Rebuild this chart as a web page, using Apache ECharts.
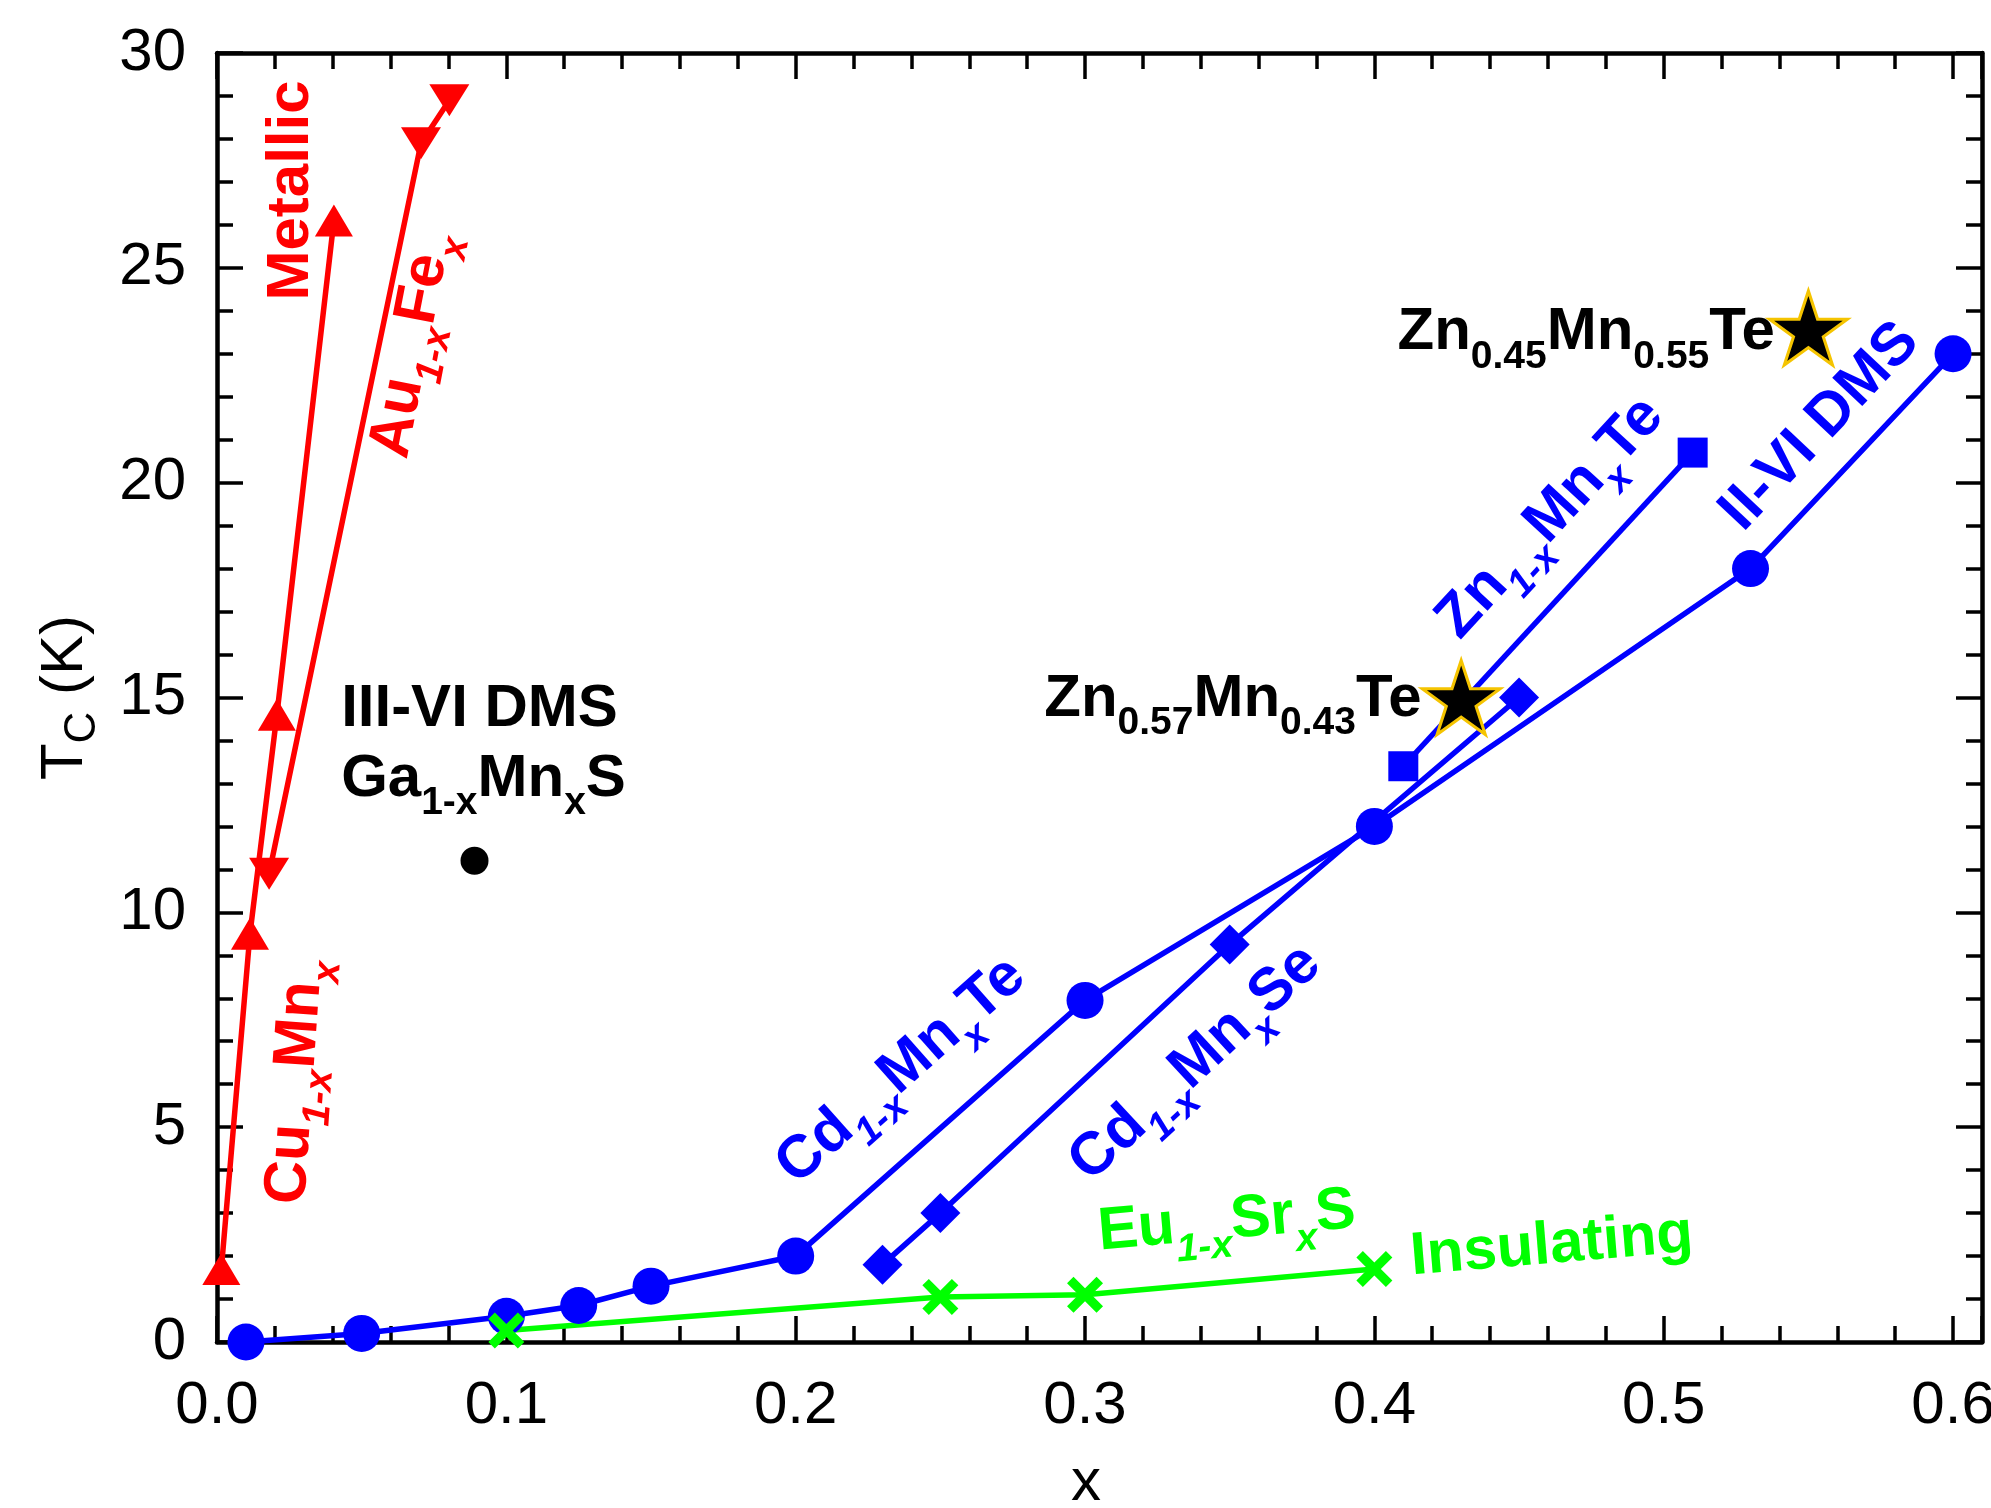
<!DOCTYPE html>
<html>
<head>
<meta charset="utf-8">
<script src="https://cdn.jsdelivr.net/npm/echarts@6/dist/echarts.min.js"></script>
<style>
  html, body { margin: 0; padding: 0; background: #fff; }
  #chart { width: 1991px; height: 1508px; }
</style>
</head>
<body>
<div id="chart"></div>
<script>
const FONT = '"Liberation Sans", Arial, Helvetica, sans-serif';
const RED = '#ff0000', BLUE = '#0000ff', GREEN = '#00ff00', BLACK = '#000000';

// x and Tc (K), one pair of arrays per system
const cuMnX = [0.0015, 0.0114, 0.0207, 0.0404];
const cuMnTc = [1.7, 9.5, 14.6, 26.1];
const auFeX = [0.018, 0.0705, 0.0803];
const auFeTc = [10.9, 27.9, 28.9];
const gaMnSX = [0.089];
const gaMnSTc = [11.2];
const iiviX = [0.01, 0.05, 0.1, 0.125, 0.15, 0.2, 0.3, 0.4, 0.53, 0.6];
const iiviTc = [0.0, 0.2, 0.6, 0.85, 1.3, 2.0, 7.95, 12.0, 18.0, 23.0];
const cdSeX = [0.23, 0.25, 0.35, 0.45];
const cdSeTc = [1.8, 3.0, 9.25, 15.0];
const znTeX = [0.41, 0.51];
const znTeTc = [13.4, 20.7];
const euSrX = [0.1, 0.25, 0.3, 0.4];
const euSrTc = [0.27, 1.05, 1.1, 1.7];
const starX = [0.43, 0.55];
const starTc = [15.0, 23.6];

// axis ranges / ticks
const xMax = 0.61, xMajor = 0.1, xMinor = 0.02;
const yMax = 30, yMajor = 5;

const STAR = 'path://M50,0 L61.23,34.55 L97.55,34.55 L68.16,55.9 L79.39,90.45 L50,69.1 L20.61,90.45 L31.84,55.9 L2.45,34.55 L38.77,34.55 Z';
const CROSS = 'path://M0,1.8 L1.8,0 L5,3.2 L8.2,0 L10,1.8 L6.8,5 L10,8.2 L8.2,10 L5,6.8 L1.8,10 L0,8.2 L3.2,5 Z';

function zip(xs, ys) {
  return xs.map((x, i) => [x, ys[i]]);
}

function lineSeries(xs, ys, color, symbol, size, extra) {
  return Object.assign({
    type: 'line',
    data: zip(xs, ys),
    symbol: symbol,
    symbolSize: size,
    showSymbol: true,
    showAllSymbol: true,
    clip: false,
    silent: true,
    lineStyle: { color: color, width: 5.5 },
    itemStyle: { color: color, opacity: 1 },
    emphasis: { disabled: true }
  }, extra || {});
}

const frame = { show: true, onZero: false, lineStyle: { color: '#000', width: 4.5 } };
const noLine = { show: false, onZero: false };
const tickStyle = { color: '#000', width: 3.5 };

function xAxis(position, interval, tickLen, labels) {
  return {
    type: 'value', position: position, min: 0, max: xMax, interval: interval,
    axisLine: labels !== null ? frame : noLine,
    axisTick: { show: true, inside: true, length: tickLen, lineStyle: tickStyle },
    axisLabel: labels ? {
      show: true, margin: 34, color: '#000', fontSize: 60, fontFamily: FONT,
      formatter: v => Math.abs(v * 10 - Math.round(v * 10)) < 1e-6 ? v.toFixed(1) : ''
    } : { show: false },
    splitLine: { show: false }
  };
}

function yAxis(position, labels) {
  return {
    type: 'value', position: position, min: 0, max: yMax, interval: yMajor,
    axisLine: frame,
    axisTick: { show: true, inside: true, length: 26, lineStyle: tickStyle },
    minorTick: { show: true, splitNumber: 5, length: 16, lineStyle: tickStyle },
    axisLabel: labels ? { show: true, margin: 31, color: '#000', fontSize: 60, fontFamily: FONT } : { show: false },
    splitLine: { show: false }
  };
}

const xs = [
  xAxis('bottom', xMajor, 26, true),
  xAxis('bottom', xMinor, 16, null),
  xAxis('top', xMajor, 26, false),
  xAxis('top', xMinor, 16, null)
];
Object.assign(xs[0], {
  name: 'x', nameLocation: 'middle', nameGap: 111,
  nameTextStyle: { color: '#000', fontSize: 60, fontFamily: FONT, padding: [0, 27, 0, 0] }
});

const ys = [yAxis('left', true), yAxis('right', false)];
Object.assign(ys[0], {
  name: '{t|T}{s|C}{t| (K)}', nameLocation: 'middle', nameGap: 112,
  nameTextStyle: {
    rich: {
      t: { color: '#000', fontSize: 60, fontFamily: FONT, lineHeight: 60, verticalAlign: 'top' },
      s: { color: '#000', fontSize: 44, fontFamily: FONT, lineHeight: 70, verticalAlign: 'bottom' }
    }
  }
});

const chart = echarts.init(document.getElementById('chart'), null, { renderer: 'canvas' });

chart.setOption({
  animation: false,
  backgroundColor: '#fff',
  grid: { left: 217, right: 9, top: 53, bottom: 166, containLabel: false, outerBoundsMode: 'none' },
  xAxis: xs,
  yAxis: ys,
  series: [
    lineSeries(cuMnX, cuMnTc, RED, 'triangle', [38, 32]),
    lineSeries(auFeX, auFeTc, RED, 'triangle', [40, 32], { symbolRotate: 180 }),
    lineSeries(cdSeX, cdSeTc, BLUE, 'diamond', 40),
    lineSeries(znTeX, znTeTc, BLUE, 'rect', 30),
    lineSeries(iiviX, iiviTc, BLUE, 'circle', 37),
    lineSeries(euSrX, euSrTc, GREEN, CROSS, 36),
    {
      type: 'scatter', data: zip(gaMnSX, gaMnSTc), symbol: 'circle', symbolSize: 28,
      itemStyle: { color: BLACK, opacity: 1 }, silent: true, clip: false
    },
    {
      type: 'scatter', data: zip(starX, starTc), symbol: STAR, symbolSize: [78, 74],
      itemStyle: { color: BLACK, opacity: 1, borderColor: '#f5c400', borderWidth: 3 },
      silent: true, clip: false, z: 5
    }
  ]
});

// text labels: anchor given in data units, rotation in degrees
function richFor(color, weight) {
  const f = (size, style) => (style || 'normal') + ' ' + weight + ' ' + size + 'px ' + FONT;
  return {
    m: { font: f(60), fill: color, lineHeight: 60, verticalAlign: 'top' },
    s: { font: f(39), fill: color, lineHeight: 74, verticalAlign: 'bottom' },
    si: { font: f(39, 'italic'), fill: color, lineHeight: 74, verticalAlign: 'bottom' }
  };
}

const notes = [
  { text: '{m|Metallic}', at: [0.0259, 26.8], rot: 90, color: RED },
  { text: '{m|Au}{si|1-x}{m|Fe}{si|x}', at: [0.0674, 23.2], rot: 79, color: RED },
  { text: '{m|Cu}{si|1-x}{m|Mn}{si|x}', at: [0.0273, 6.05], rot: 86, color: RED },
  { text: '{m|III-VI DMS}', at: [0.0429, 14.73], rot: 0, color: BLACK, align: 'left' },
  { text: '{m|Ga}{s|1-x}{m|Mn}{s|x}{m|S}', at: [0.0429, 13.1], rot: 0, color: BLACK, align: 'left' },
  { text: '{m|Zn}{s|0.45}{m|Mn}{s|0.55}{m|Te}', at: [0.5384, 23.5], rot: 0, color: BLACK, align: 'right' },
  { text: '{m|Zn}{s|0.57}{m|Mn}{s|0.43}{m|Te}', at: [0.4163, 14.96], rot: 0, color: BLACK, align: 'right' },
  { text: '{m|Zn}{si|1-x}{m|Mn}{si|x}{m|Te}', at: [0.4609, 19.18], rot: 47.3, color: BLUE },
  { text: '{m|II-VI DMS}', at: [0.554, 21.3], rot: 46.8, color: BLUE },
  { text: '{m|Cd}{si|1-x}{m|Mn}{si|x}{m|Te}', at: [0.2365, 6.31], rot: 41.6, color: BLUE },
  { text: '{m|Cd}{si|1-x}{m|Mn}{si|x}{m|Se}', at: [0.3382, 6.49], rot: 42.8, color: BLUE },
  { text: '{m|Eu}{si|1-x}{m|Sr}{si|x}{m|S}', at: [0.349, 2.8], rot: 5, color: GREEN },
  { text: '{m|Insulating}', at: [0.4613, 2.23], rot: 4.7, color: GREEN }
];

chart.setOption({
  graphic: notes.map(n => {
    const p = chart.convertToPixel({ xAxisIndex: 0, yAxisIndex: 0 }, n.at);
    return {
      type: 'text', x: p[0], y: p[1], rotation: n.rot * Math.PI / 180, z: 100, silent: true,
      style: {
        text: n.text, rich: richFor(n.color, 'bold'), fill: n.color,
        font: 'bold 60px ' + FONT, align: n.align || 'center', verticalAlign: 'top', y: -30
      }
    };
  })
});
</script>
</body>
</html>
